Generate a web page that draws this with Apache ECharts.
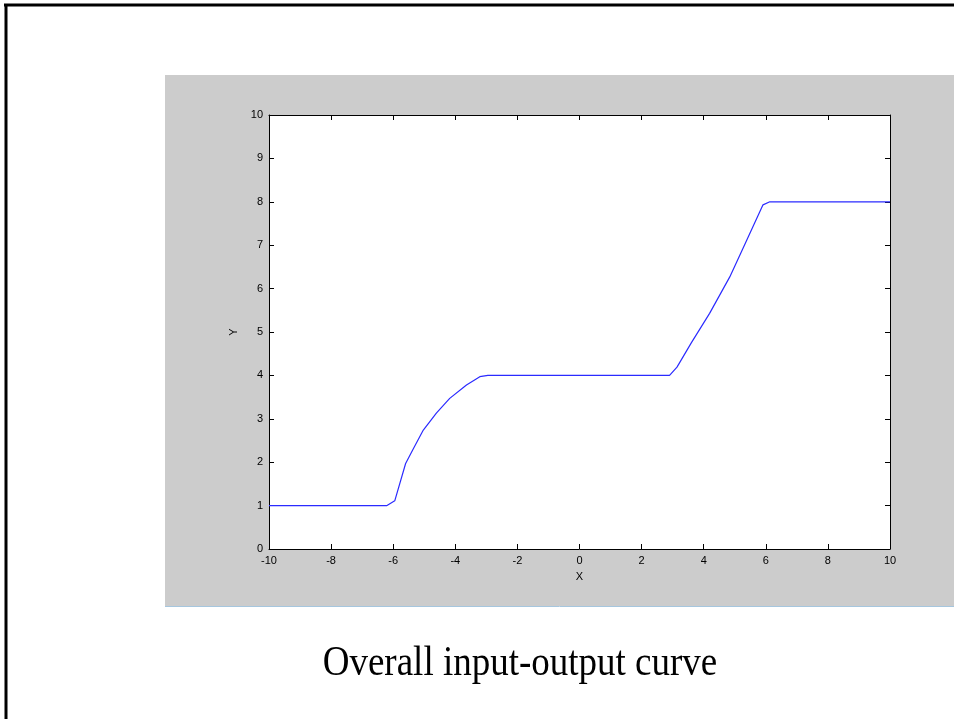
<!DOCTYPE html>
<html>
<head>
<meta charset="utf-8">
<script src="https://cdn.jsdelivr.net/npm/echarts@6/dist/echarts.min.js"></script>
<style>
html,body{margin:0;padding:0;background:#fff;}
#chart{width:954px;height:719px;}
</style>
</head>
<body>
<div id="chart"></div>
<script>
// Curve data
var xValues = [-10, -6.2, -5.95, -5.6, -5.36, -5.03, -4.61, -4.18, -3.64, -3.21, -2.95, 2.9, 3.14, 3.6, 4.19, 4.84, 5.3, 5.91, 6.13, 10];
var yValues = [1, 1, 1.11, 1.97, 2.3, 2.74, 3.13, 3.47, 3.78, 3.97, 4.0, 4.0, 4.19, 4.75, 5.43, 6.27, 6.98, 7.93, 8.0, 8.0];
var xTicks = [-10, -8, -6, -4, -2, 0, 2, 4, 6, 8, 10];
var yTicks = [0, 1, 2, 3, 4, 5, 6, 7, 8, 9, 10];
var titleText = 'Overall input-output curve';
var xName = 'X';
var yName = 'Y';

var points = xValues.map(function (x, i) { return [x, yValues[i]]; });

var chart = echarts.init(document.getElementById('chart'), null, {renderer: 'canvas'});
var labelFont = {color: '#000', fontSize: 11, fontFamily: 'Liberation Sans, Arial, sans-serif'};
var axisLine = {show: true, onZero: false, lineStyle: {color: '#000', width: 1}};
var tick = {show: true, inside: true, length: 5, lineStyle: {color: '#000', width: 1}};

chart.setOption({
  animation: false,
  backgroundColor: '#ffffff',
  graphic: [
    {type: 'rect', z: -100, shape: {x: 165, y: 75, width: 789, height: 531}, style: {fill: '#cccccc'}},
    {type: 'line', z: -100, shape: {x1: 165, y1: 606.5, x2: 954, y2: 606.5}, style: {stroke: '#a6c6de', lineWidth: 1}},
    {type: 'line', z: -100, shape: {x1: 4, y1: 5, x2: 954, y2: 5}, style: {stroke: '#000', lineWidth: 3}},
    {type: 'line', z: -100, shape: {x1: 6, y1: 4, x2: 6, y2: 719}, style: {stroke: '#000', lineWidth: 3}},
    {type: 'text', z: 10, x: 520, y: 664, scaleY: 1.15, originX: 0, originY: 0,
      style: {text: titleText, fill: '#000', font: '37px "Liberation Serif", "Times New Roman", serif', textAlign: 'center', textVerticalAlign: 'middle'}}
  ],
  grid: {left: 269, top: 115, width: 621, height: 434, show: true, backgroundColor: '#ffffff', borderWidth: 0},
  xAxis: [
    {type: 'value', position: 'bottom', min: -10, max: 10, interval: 2,
      axisLine: axisLine, axisTick: tick, splitLine: {show: false},
      axisLabel: Object.assign({margin: 6, formatter: function (v) { return xTicks.indexOf(v) >= 0 ? String(v) : ''; }}, labelFont),
      name: xName, nameLocation: 'middle', nameGap: 22, nameTextStyle: labelFont},
    {type: 'value', position: 'top', min: -10, max: 10, interval: 2,
      axisLine: axisLine, axisTick: tick, splitLine: {show: false}, axisLabel: {show: false}}
  ],
  yAxis: [
    {type: 'value', position: 'left', min: 0, max: 10, interval: 1,
      axisLine: axisLine, axisTick: tick, splitLine: {show: false},
      axisLabel: Object.assign({margin: 6, formatter: function (v) { return yTicks.indexOf(v) >= 0 ? String(v) : ''; }}, labelFont),
      name: yName, nameLocation: 'middle', nameGap: 27, nameRotate: 90, nameTextStyle: labelFont},
    {type: 'value', position: 'right', min: 0, max: 10, interval: 1,
      axisLine: axisLine, axisTick: tick, splitLine: {show: false}, axisLabel: {show: false}}
  ],
  series: [{
    type: 'line', xAxisIndex: 0, yAxisIndex: 0, data: points, showSymbol: false, symbol: 'none',
    lineStyle: {color: '#2b2bff', width: 1.2}, smooth: false, z: 3
  }]
});
</script>
</body>
</html>
